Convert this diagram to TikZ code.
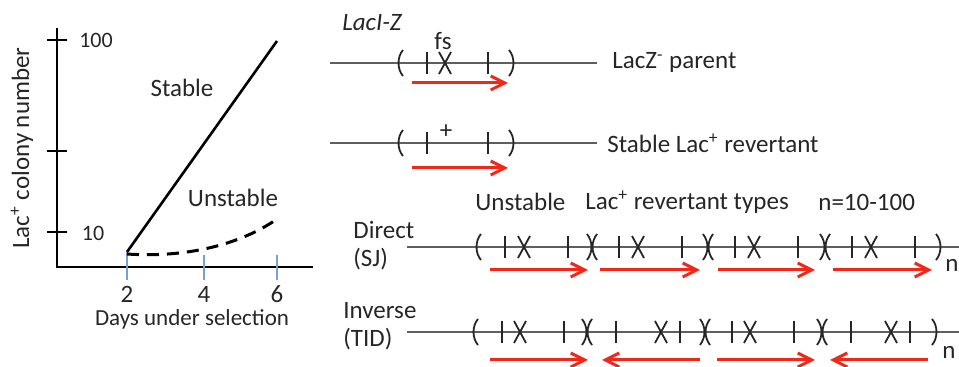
\documentclass[tikz,border=0pt]{standalone}
\usepackage{fontspec}
\setmainfont{Carlito}
\usetikzlibrary{positioning,arrows.meta}

\definecolor{revred}{RGB}{240,40,25}
\definecolor{tickblue}{RGB}{120,160,210}
\definecolor{dnagray}{RGB}{95,95,95}

\tikzset{
    lbl/.style={font=\fontsize{12.5}{14}\selectfont, text=black!85, inner sep=0pt},
    numlbl/.style={font=\fontsize{11}{13}\selectfont, text=black!85, inner sep=0pt},
    dna/.style={draw=dnagray, line width=0.8pt},
    mk/.style={draw=black!85, line width=0.9pt},
    revarrow/.style={draw=revred, line width=1.5pt, -{Straight Barb[length=7pt,width=7pt]}}
}

\begin{document}
\begin{tikzpicture}[x=0.5pt,y=-0.5pt]
    \useasboundingbox (0,0) rectangle (959,367);

    % Axes
    \coordinate (O) at (57,267);
    \draw[line width=1pt] (57,28) -- (O) -- (313,267);
    \foreach \t in {40,151,232}
        \draw[line width=1pt] (47,\t) -- (67,\t);
    \node[numlbl] (y100) at (96,40) {100};
    \node[numlbl] (y10) at (93,233) {10};
    \node[lbl, rotate=90] (ylab) at (22,148) {Lac\textsuperscript{+} colony number};

    % Day ticks
    \draw[tickblue, line width=1pt] (127,252) -- (127,280);
    \draw[tickblue, line width=1pt] (204,255) -- (204,280);
    \draw[tickblue, line width=1pt] (277,255) -- (277,280);
    \node[lbl] (d2) at (127,294) {2};
    \node[lbl] (d4) at (204,294) {4};
    \node[lbl] (d6) at (277,294) {6};
    \node[numlbl, font=\fontsize{11.5}{13}\selectfont] (xlab) at (192,319) {Days under selection};

    % Curves
    \draw[line width=1.3pt] (127,252) -- (277,41);
    \draw[line width=1.5pt, dash pattern=on 6pt off 4pt] (127,254) .. controls (185,258) and (240,245) .. (277,219);
    \node[lbl] (stable) at (182,88) {Stable};
    \node[lbl] (unstable) at (233,198) {Unstable};

    % Parent and stable revertant
    \node[lbl, font=\fontsize{12.5}{14}\selectfont\itshape] (laciz) at (372,23) {LacI-Z};
    \draw[dna] (330,63) -- (597,63);
    \draw[dna] (330,143) -- (597,143);
    \foreach \y in {63,143} {
        \draw[mk] (403,{\y-13}) .. controls (397,{\y-6}) and (397,{\y+6}) .. (403,{\y+13});
        \draw[mk] (509,{\y-13}) .. controls (515,{\y-6}) and (515,{\y+6}) .. (509,{\y+13});
        \draw[mk] (427,{\y-11}) -- (427,{\y+11});
        \draw[mk] (488,{\y-11}) -- (488,{\y+11});
    }
    \draw[mk] (439,52) -- (451,74) (451,52) -- (439,74);
    \node[lbl] (fs) at (443,41) {fs};
    \node[lbl] (plus) at (446,132) {+};
    \draw[revarrow] (412,83) -- (508,83);
    \draw[revarrow] (412,168) -- (508,168);
    \node[lbl, anchor=west] (parent) at (612,63) {LacZ\textsuperscript{-} parent};
    \node[lbl, anchor=west] (stablerev) at (607,143) {Stable Lac\textsuperscript{+} revertant};

    % Unstable types
    \node[lbl, anchor=west] (unst) at (475,202) {Unstable};
    \node[lbl, anchor=west] (types) at (585,202) {Lac\textsuperscript{+} revertant types};
    \node[lbl, anchor=west] (ncopies) at (818,202) {n=10-100};

    % Direct (SJ)
    \node[lbl, anchor=west, align=left] (direct) at (353,246) {Direct\\(SJ)};
    \draw[dna] (407,247) -- (959,247);
    \draw[mk] (481,234) .. controls (475,241) and (475,253) .. (481,260);
    \foreach \p in {592,708,825}
        \draw[mk] ({\p-5},234) .. controls ({\p+1},242) and ({\p+1},252) .. ({\p-5},260)
                  ({\p+5},234) .. controls ({\p-1},242) and ({\p-1},252) .. ({\p+5},260);
    \draw[mk] (936,234) .. controls (942,241) and (942,253) .. (936,260);
    \foreach \p in {478,592,708,825} {
        \draw[mk] ({\p+27},236) -- ({\p+27},258);
        \draw[mk] ({\p+40},236) -- ({\p+52},258) ({\p+52},236) -- ({\p+40},258);
        \draw[mk] ({\p+90},236) -- ({\p+90},258);
    }
    \foreach \a/\b in {490/588,600/700,718/815,833/932}
        \draw[revarrow] (\a,270) -- (\b,270);
    \node[lbl, anchor=west] (ndir) at (945,265) {n};

    % Inverse (TID)
    \node[lbl, anchor=west, align=left] (inverse) at (343,326) {Inverse\\(TID)};
    \draw[dna] (407,332) -- (959,332);
    \draw[mk] (478,319) .. controls (472,326) and (472,338) .. (478,345);
    \foreach \p in {587,705,822}
        \draw[mk] ({\p-5},319) .. controls ({\p+1},327) and ({\p+1},337) .. ({\p-5},345)
                  ({\p+5},319) .. controls ({\p-1},327) and ({\p-1},337) .. ({\p+5},345);
    \draw[mk] (932,319) .. controls (938,326) and (938,338) .. (932,345);
    \foreach \p/\q in {475/587,705/822} {
        \draw[mk] ({\p+27},321) -- ({\p+27},343);
        \draw[mk] ({\p+39},321) -- ({\p+51},343) ({\p+51},321) -- ({\p+39},343);
        \draw[mk] ({\p+89},321) -- ({\p+89},343);
    }
    \foreach \p/\q in {587/705,822/935} {
        \draw[mk] ({\p+29},321) -- ({\p+29},343);
        \draw[mk] ({\q-50},321) -- ({\q-38},343) ({\q-38},321) -- ({\q-50},343);
        \draw[mk] ({\q-25},321) -- ({\q-25},343);
    }
    \foreach \a/\b in {490/588,700/602,717/815,928/830}
        \draw[revarrow] (\a,360) -- (\b,360);
    \node[lbl, anchor=west] (ninv) at (942,352) {n};
\end{tikzpicture}
\end{document}
